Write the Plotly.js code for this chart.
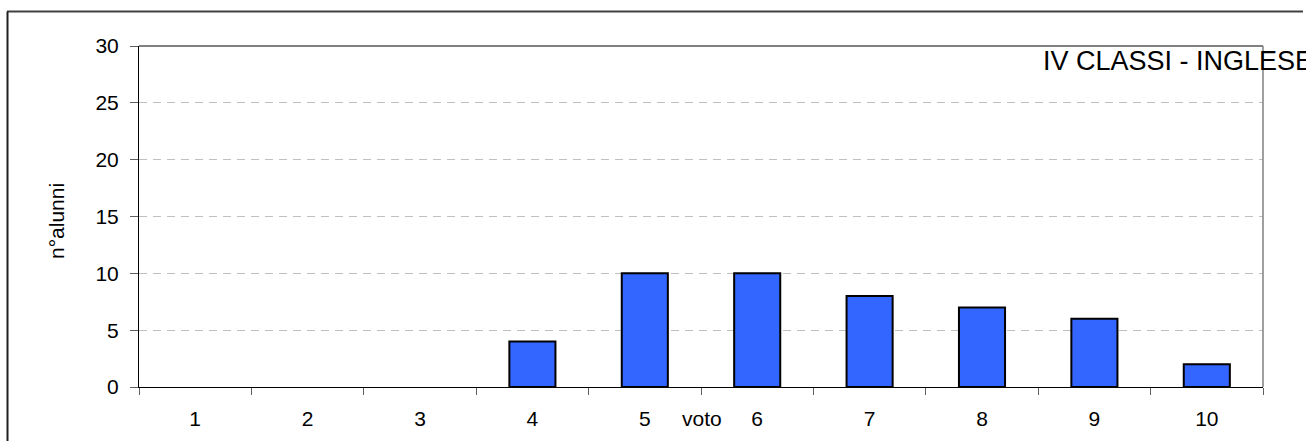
<!DOCTYPE html>
<html>
<head>
<meta charset="utf-8">
<script src="https://cdn.plot.ly/plotly-3.0.1.min.js"></script>
<style>
html,body{margin:0;padding:0;background:#fff;}
#chart{width:1306px;height:441px;}
</style>
</head>
<body>
<div id="chart"></div>
<script>
const categories = ["1","2","3","4","5","6","7","8","9","10"];
const alunni = [0,0,0,4,10,10,8,7,6,2];
const chartTitle = "IV CLASSI - INGLESE";
const xTitle = "voto";
const yTitle = "n°alunni";

const FONT = "Liberation Sans, Arial, sans-serif";
// plot area in pixels: x 139..1263, y 46..387
const L = 139, R = 1263, T = 46, B = 387;
const W = R - L, H = B - T;
const px = v => (v - L) / W;
const py = v => (B - v) / H;

const trace = {
  type: "bar",
  x: categories,
  // zero counts draw no visible bar
  y: alunni.map(v => (v === 0 ? null : v)),
  marker: {color: "#3366FF", line: {color: "#000000", width: 2}},
  hoverinfo: "x+y"
};

const layout = {
  width: 1306, height: 441,
  margin: {l: L, r: 1306 - R, t: T, b: 441 - B, pad: 0},
  paper_bgcolor: "#ffffff",
  plot_bgcolor: "#ffffff",
  showlegend: false,
  bargap: 0.59,
  font: {family: FONT, color: "#000000", size: 21},
  xaxis: {
    type: "category",
    showline: true, linecolor: "#000000", linewidth: 1,
    ticks: "outside", tickson: "boundaries", ticklen: 7, tickcolor: "#606060", tickwidth: 1,
    showgrid: false, zeroline: false,
    tickfont: {family: FONT, size: 21, color: "#000000"},
    ticklabelstandoff: 13,
    fixedrange: true
  },
  yaxis: {
    range: [0, 30], dtick: 5, tick0: 0,
    showline: true, linecolor: "#000000", linewidth: 1,
    ticks: "outside", ticklen: 8, tickcolor: "#606060", tickwidth: 1,
    showgrid: true, gridcolor: "#c0c0c0", gridwidth: 1, griddash: "8px,6px",
    zeroline: false,
    tickfont: {family: FONT, size: 21, color: "#000000"},
    ticklabelstandoff: 7,
    fixedrange: true
  },
  annotations: [
    {text: chartTitle, xref: "paper", yref: "paper", x: px(1041), y: py(61),
     xanchor: "left", yanchor: "middle", showarrow: false,
     font: {family: FONT, size: 27, color: "#000000"}},
    {text: xTitle, xref: "paper", yref: "paper", x: px(702), y: py(418),
     xanchor: "center", yanchor: "middle", showarrow: false,
     font: {family: FONT, size: 21, color: "#000000"}},
    {text: yTitle, xref: "paper", yref: "paper", x: px(56), y: py(221),
     xanchor: "center", yanchor: "middle", showarrow: false, textangle: -90,
     font: {family: FONT, size: 21, color: "#000000"}}
  ],
  shapes: [
    // plot area top and right border
    {type: "line", xref: "paper", yref: "paper", x0: 0, x1: 1, y0: 1, y1: 1,
     line: {color: "#000000", width: 1}},
    {type: "line", xref: "paper", yref: "paper", x0: 1, x1: 1, y0: 0, y1: 1,
     line: {color: "#808080", width: 1.5}},
    // outer chart frame (top and left)
    {type: "line", xref: "paper", yref: "paper", x0: px(7), x1: px(1303), y0: py(11.5), y1: py(11.5),
     line: {color: "#404040", width: 2}},
    {type: "line", xref: "paper", yref: "paper", x0: px(7.5), x1: px(7.5), y0: py(11.5), y1: py(450),
     line: {color: "#202020", width: 2}}
  ]
};

Plotly.newPlot("chart", [trace], layout, {displayModeBar: false, staticPlot: true});
</script>
</body>
</html>
